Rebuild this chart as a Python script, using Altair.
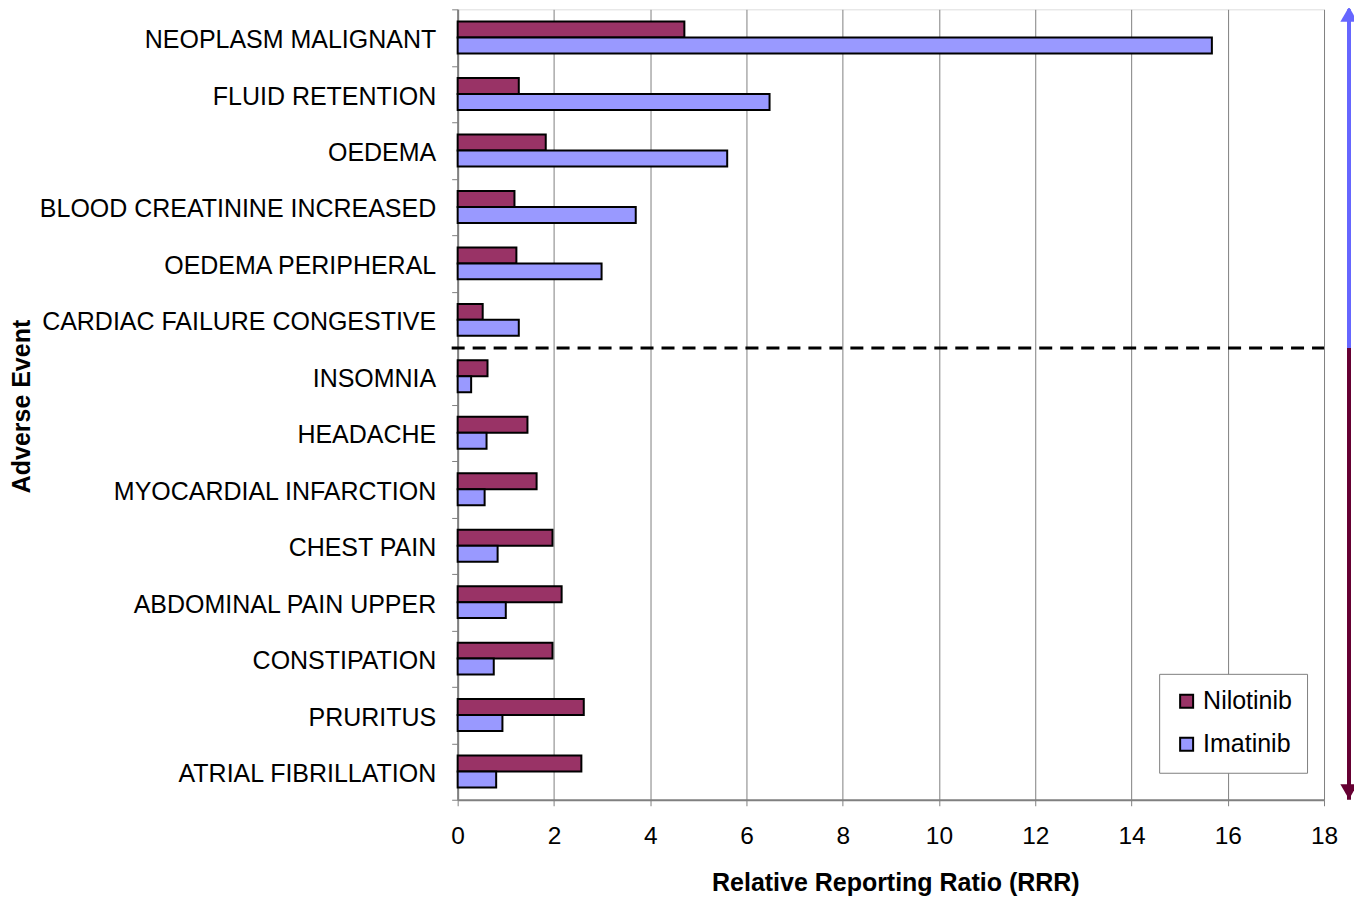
import altair as alt
import pandas as pd

events = [
    "NEOPLASM MALIGNANT",
    "FLUID RETENTION",
    "OEDEMA",
    "BLOOD CREATININE INCREASED",
    "OEDEMA PERIPHERAL",
    "CARDIAC FAILURE CONGESTIVE",
    "INSOMNIA",
    "HEADACHE",
    "MYOCARDIAL INFARCTION",
    "CHEST PAIN",
    "ABDOMINAL PAIN UPPER",
    "CONSTIPATION",
    "PRURITUS",
    "ATRIAL FIBRILLATION",
]
nilotinib = [4.71, 1.27, 1.83, 1.18, 1.22, 0.52, 0.62, 1.45, 1.64, 1.97, 2.16, 1.97, 2.62, 2.57]
imatinib = [15.67, 6.48, 5.60, 3.70, 2.99, 1.27, 0.28, 0.60, 0.56, 0.83, 1.00, 0.75, 0.93, 0.80]
series = ["Nilotinib", "Imatinib"]
colors = ["#993366", "#9999FF"]
x_ticks = [0, 2, 4, 6, 8, 10, 12, 14, 16, 18]

rows = []
for e, n, i in zip(events, nilotinib, imatinib):
    rows.append({"event": e, "drug": "Nilotinib", "rrr": n})
    rows.append({"event": e, "drug": "Imatinib", "rrr": i})
df = pd.DataFrame(rows)

W, H = 867, 791
FONT = "Liberation Sans"

yscale = alt.Scale(domain=events, paddingInner=0, paddingOuter=0)
xscale = alt.Scale(domain=[0, 18], nice=False, zero=True)

bars = alt.Chart(df).mark_bar(stroke="black", strokeWidth=2).encode(
    x=alt.X(
        "rrr:Q",
        scale=xscale,
        axis=alt.Axis(
            values=x_ticks,
            title="Relative Reporting Ratio (RRR)",
            titleFont=FONT,
            titleFontSize=25,
            titleFontWeight="bold",
            titleColor="black",
            titleX=438,
            titleY=83,
            titleBaseline="middle",
            labelFont=FONT,
            labelFontSize=24.5,
            labelColor="black",
            labelPadding=19,
            labelFlush=False,
            tickSize=6,
            tickColor="#808080",
            domainColor="#808080",
            domainWidth=2,
            grid=True,
            gridColor="#808080",
            gridWidth=1,
        ),
    ),
    y=alt.Y(
        "event:N",
        scale=yscale,
        sort=events,
        axis=alt.Axis(
            title="Adverse Event",
            titleFont=FONT,
            titleFontSize=25,
            titleFontWeight="bold",
            titleColor="black",
            titleAngle=270,
            titleX=-436,
            titleY=397,
            titleAlign="center",
            titleBaseline="middle",
            labelFont=FONT,
            labelFontSize=25,
            labelColor="black",
            labelPadding=16,
            labelOffset=2,
            labelLimit=600,
            tickBand="extent",
            tickSize=6,
            tickColor="#808080",
            domainColor="#808080",
            domainWidth=2,
            grid=False,
        ),
    ),
    yOffset=alt.YOffset(
        "drug:N",
        sort=series,
        scale=alt.Scale(domain=series, paddingInner=0, paddingOuter=0.77),
    ),
    color=alt.Color(
        "drug:N",
        scale=alt.Scale(domain=series, range=colors),
        legend=alt.Legend(
            title=None,
            orient="none",
            legendX=702,
            legendY=665,
            fillColor="white",
            strokeColor="#808080",
            padding=15,
            symbolType="square",
            symbolSize=169,
            symbolStrokeColor="black",
            symbolStrokeWidth=2,
            labelFont=FONT,
            labelFontSize=25,
            labelColor="black",
            labelOffset=4,
            rowPadding=17,
        ),
    ),
)

divider = alt.Chart(pd.DataFrame({"event": ["INSOMNIA"]})).mark_rule(
    color="black", strokeWidth=3, strokeDash=[13, 8]
).encode(
    y=alt.Y("event:N", scale=yscale, sort=events, bandPosition=0),
    x=alt.value(-6),
    x2=alt.value(W),
)

up_line = alt.Chart(pd.DataFrame({"s": ["NEOPLASM MALIGNANT"], "e": ["INSOMNIA"]})).mark_rule(
    color="#6666FF", strokeWidth=4
).encode(
    x=alt.value(892),
    y=alt.Y("s:N", scale=yscale, sort=events, bandPosition=0),
    y2=alt.Y2("e:N", bandPosition=0),
)
down_line = alt.Chart(pd.DataFrame({"s": ["INSOMNIA"], "e": ["ATRIAL FIBRILLATION"]})).mark_rule(
    color="#660033", strokeWidth=4
).encode(
    x=alt.value(892),
    y=alt.Y("s:N", scale=yscale, sort=events, bandPosition=0),
    y2=alt.Y2("e:N", bandPosition=1),
)
up_head = alt.Chart(pd.DataFrame({"s": ["NEOPLASM MALIGNANT"]})).mark_point(
    shape="triangle-up", filled=True, color="#6666FF", size=300, opacity=1, yOffset=5
).encode(
    x=alt.value(892),
    y=alt.Y("s:N", scale=yscale, sort=events, bandPosition=0),
)
down_head = alt.Chart(pd.DataFrame({"s": ["ATRIAL FIBRILLATION"]})).mark_point(
    shape="triangle-down", filled=True, color="#660033", size=300, opacity=1, yOffset=-8
).encode(
    x=alt.value(892),
    y=alt.Y("s:N", scale=yscale, sort=events, bandPosition=1),
)

chart = (
    alt.layer(bars, divider, up_line, down_line, up_head, down_head)
    .properties(
        width=W,
        height=H,
        autosize=alt.AutoSizeParams(type="none"),
        padding={"left": 450, "top": 1, "right": 30, "bottom": 96},
    )
    .configure_view(stroke="#8c8c8c", strokeWidth=2)
    .configure(font=FONT, background="white")
)

chart.save("out.html", embed_options={"renderer": "svg", "actions": False})
